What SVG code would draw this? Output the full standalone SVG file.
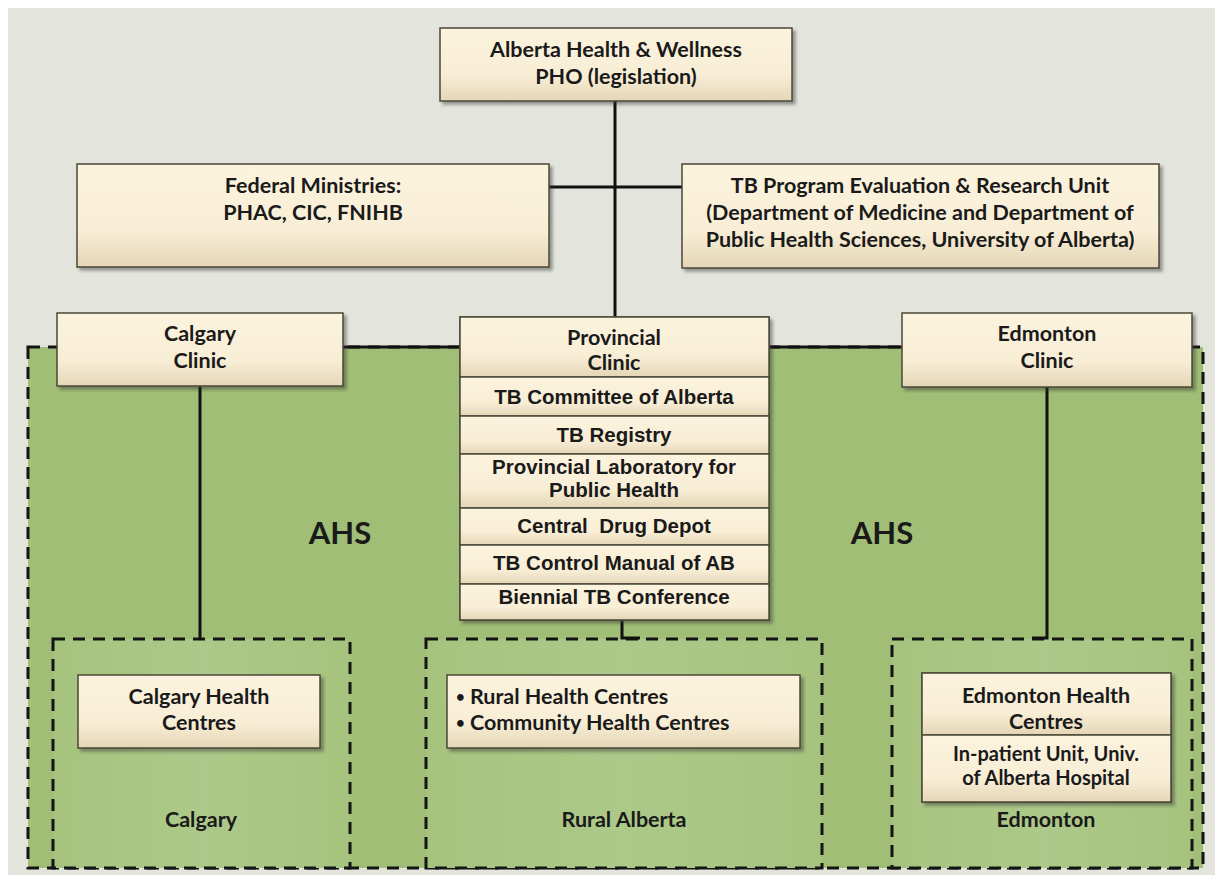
<svg xmlns="http://www.w3.org/2000/svg" width="1215" height="877" viewBox="0 0 1215 877">
<defs>
<linearGradient id="cream" x1="0" y1="0" x2="0" y2="1">
<stop offset="0" stop-color="#fcf3de"/>
<stop offset="0.65" stop-color="#f8eed6"/>
<stop offset="1" stop-color="#e4d6b6"/>
</linearGradient>
<linearGradient id="inner" x1="0" y1="0" x2="1" y2="0">
<stop offset="0" stop-color="#a6c37e"/>
<stop offset="0.5" stop-color="#adc989"/>
<stop offset="1" stop-color="#a6c37e"/>
</linearGradient>
<filter id="sh" x="-5%" y="-10%" width="112%" height="130%">
<feDropShadow dx="3" dy="3" stdDeviation="1.5" flood-color="#333" flood-opacity="0.45"/>
</filter>
</defs>
<style>
.box{fill:url(#cream);stroke:#4a4838;stroke-width:1.5;filter:url(#sh)}
.row{fill:url(#cream);stroke:#4a4838;stroke-width:1.5}
.dash{fill:none;stroke:#141414;stroke-width:3;stroke-dasharray:12 8}
.ln{fill:none;stroke:#111;stroke-width:3}
.c{font-family:Lato,"Liberation Sans",sans-serif;font-weight:bold;font-size:21.5px;fill:#1a1a1a;text-anchor:middle}
.s{font-size:20px}
.l{text-anchor:start}
.a{font-family:"Liberation Sans",Arial,sans-serif;font-weight:bold;font-size:20.5px;fill:#1a1a1a;text-anchor:middle}
.big{font-family:Lato,"Liberation Sans",sans-serif;font-weight:bold;font-size:31px;fill:#1a1a1a;text-anchor:middle}
</style>
<rect x="0" y="0" width="1215" height="877" fill="#ffffff"/>
<rect x="8" y="8" width="1207" height="867" fill="#e3e5dc"/>

<g id="ahs-region">
<rect x="28" y="347" width="1175" height="521" fill="#a0be75"/>
<rect x="28" y="347" width="1175" height="521" class="dash"/>
<text x="340" y="544" class="big">AHS</text>
<text x="882" y="544" class="big">AHS</text>
</g>

<g id="calgary-region">
<rect x="53" y="639" width="297" height="229" fill="url(#inner)"/>
<rect x="53" y="639" width="297" height="229" class="dash"/>
<text x="201" y="827" class="c">Calgary</text>
</g>
<g id="rural-region">
<rect x="426" y="639" width="396" height="229" fill="url(#inner)"/>
<rect x="426" y="639" width="396" height="229" class="dash"/>
<text x="624" y="827" class="c">Rural Alberta</text>
</g>
<g id="edmonton-region">
<rect x="892" y="639" width="300" height="229" fill="url(#inner)"/>
<rect x="892" y="639" width="300" height="229" class="dash"/>
<text x="1046" y="827" class="c">Edmonton</text>
</g>

<g id="connectors">
<line x1="615" y1="101" x2="615" y2="317" class="ln"/>
<line x1="549" y1="187" x2="682" y2="187" class="ln"/>
<line x1="343" y1="347" x2="460" y2="347" class="ln"/>
<line x1="768" y1="347" x2="902" y2="347" class="ln"/>
<line x1="200" y1="386" x2="200" y2="640" class="ln"/>
<polyline points="1047,387 1047,638 1032,638" class="ln"/>
<polyline points="622,619 622,638 640,638" class="ln"/>
</g>

<g id="alberta-health">
<rect x="440" y="28" width="352" height="73" class="box"/>
<text x="616" y="57" class="c">Alberta Health &amp; Wellness</text>
<text x="616" y="84" class="c">PHO (legislation)</text>
</g>

<g id="federal">
<rect x="77" y="164" width="472" height="103" class="box"/>
<text x="313" y="193" class="c">Federal Ministries:</text>
<text x="313" y="220" class="c">PHAC, CIC, FNIHB</text>
</g>

<g id="tb-research">
<rect x="682" y="164" width="477" height="104" class="box"/>
<text x="920" y="193" class="c">TB Program Evaluation &amp; Research Unit</text>
<text x="920" y="220" class="c">(Department of Medicine and Department of</text>
<text x="920" y="247" class="c">Public Health Sciences, University of Alberta)</text>
</g>

<g id="calgary-clinic">
<rect x="57" y="313" width="286" height="73" class="box"/>
<text x="200" y="341" class="c">Calgary</text>
<text x="200" y="368" class="c">Clinic</text>
</g>

<g id="edmonton-clinic">
<rect x="902" y="313" width="290" height="74" class="box"/>
<text x="1047" y="341" class="c">Edmonton</text>
<text x="1047" y="368" class="c">Clinic</text>
</g>

<g id="provincial-clinic">
<rect x="460" y="317" width="309" height="303" class="box"/>
<rect x="460" y="317" width="309" height="60" class="row"/>
<text x="614" y="345" class="c">Provincial</text>
<text x="614" y="370" class="c">Clinic</text>
<rect x="460" y="377" width="309" height="39" class="row"/>
<text x="614" y="404" class="a">TB Committee of Alberta</text>
<rect x="460" y="416" width="309" height="38" class="row"/>
<text x="614" y="442" class="a">TB Registry</text>
<rect x="460" y="454" width="309" height="54" class="row"/>
<text x="614" y="474" class="a">Provincial Laboratory for</text>
<text x="614" y="497" class="a">Public Health</text>
<rect x="460" y="508" width="309" height="37" class="row"/>
<text x="614" y="533" class="a" xml:space="preserve">Central  Drug Depot</text>
<rect x="460" y="545" width="309" height="39" class="row"/>
<text x="614" y="570" class="a">TB Control Manual of AB</text>
<rect x="460" y="584" width="309" height="36" class="row"/>
<text x="614" y="604" class="a">Biennial TB Conference</text>
</g>

<g id="calgary-health">
<rect x="78" y="675" width="242" height="73" class="box"/>
<text x="199" y="704" class="c">Calgary Health</text>
<text x="199" y="730" class="c">Centres</text>
</g>

<g id="rural-health">
<rect x="447" y="675" width="353" height="73" class="box"/>
<text x="456" y="704" class="c l"><tspan font-size="15px" dy="-2">•</tspan><tspan dy="2"> Rural Health Centres</tspan></text>
<text x="456" y="730" class="c l"><tspan font-size="15px" dy="-2">•</tspan><tspan dy="2"> Community Health Centres</tspan></text>
</g>

<g id="edmonton-health">
<rect x="922" y="673" width="249" height="129" class="box"/>
<rect x="922" y="673" width="249" height="62" class="row"/>
<text x="1046" y="703" class="c">Edmonton Health</text>
<text x="1046" y="729" class="c">Centres</text>
<rect x="922" y="735" width="249" height="67" class="row"/>
<text x="1046" y="761" class="c s">In-patient Unit, Univ.</text>
<text x="1046" y="785" class="c s">of Alberta Hospital</text>
</g>
</svg>
